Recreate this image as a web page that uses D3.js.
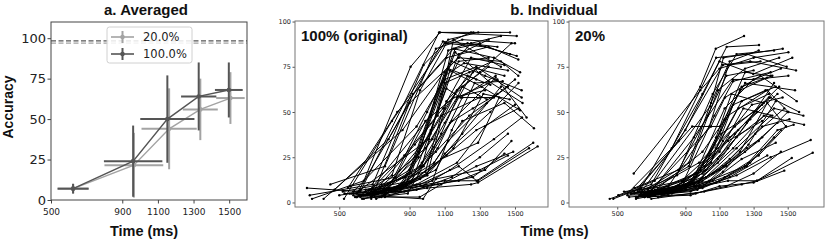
<!DOCTYPE html>
<html>
<head>
<meta charset="utf-8">
<script src="https://cdn.jsdelivr.net/npm/d3@7"></script>
<style>
  body { margin: 0; background: #fff; }
  svg { display: block; }
  .tick text { font-family: "DejaVu Sans", sans-serif; }
  .bold { font-family: "Liberation Sans", Arial, sans-serif; font-weight: bold; fill: #111; }
</style>
</head>
<body>
<svg id="chart" width="830" height="241"></svg>
<script>
// ---- panel a: averaged curves ----
const avgT20 = [624, 965, 1163, 1338, 1507];
const avgA20 = [7, 21.5, 44, 56, 63];
const xErr20 = [87, 165, 155, 98, 80];
const yErr20 = [3, 20, 25, 19, 16];

const avgT100 = [624, 961, 1153, 1329, 1498];
const avgA100 = [7, 24, 50, 64, 68];
const xErr100 = [87, 164, 152, 99, 78];
const yErr100 = [3, 22, 27, 21, 17];

const ceiling100 = 98.3;
const ceiling20 = 96.9;

const xTicks = [500, 900, 1100, 1300, 1500];
const yTicks = [0, 25, 50, 75, 100];

// ---- panel b: individual subjects (5 RT bins each) ----
const origT = [
  [316, 620, 1068, 1263, 1472], [332, 690, 980, 1120, 1291], [345, 640, 906, 1073, 1510],
  [449, 760, 1050, 1200, 1500], [473, 780, 1090, 1300, 1472], [527, 800, 1100, 1330, 1510],
  [549, 830, 1110, 1350, 1519], [682, 920, 1150, 1380, 1529], [600, 900, 1180, 1420, 1519],
  [411, 860, 1140, 1330, 1538], [580, 940, 1100, 1280, 1538], [650, 1020, 1160, 1350, 1543],
  [620, 1010, 1130, 1310, 1529], [690, 990, 1170, 1400, 1566], [730, 1040, 1200, 1440, 1608],
  [640, 960, 1180, 1282, 1604], [700, 1000, 1250, 1290, 1629], [560, 850, 1100, 1290, 1580],
  [620, 958, 1080, 1280, 1490], [660, 977, 1050, 1300, 1460], [700, 900, 1100, 1250, 1420],
  [720, 950, 1120, 1230, 1400], [680, 970, 1080, 1180, 1350], [740, 1000, 1110, 1280, 1440],
  [760, 1030, 1140, 1270, 1430], [620, 880, 1060, 1200, 1380], [590, 830, 1030, 1170, 1350],
  [650, 870, 1100, 1230, 1360], [710, 960, 1150, 1320, 1470], [670, 940, 1170, 1330, 1500],
  [750, 1050, 1100, 1360, 1520], [600, 820, 1000, 1200, 1420], [530, 760, 980, 1140, 1390],
  [690, 900, 1080, 1290, 1410], [640, 860, 1050, 1240, 1460], [720, 1000, 1120, 1340, 1500],
  [580, 920, 1110, 1280, 1520], [760, 990, 1130, 1380, 1540], [610, 940, 1140, 1300, 1460],
  [680, 980, 1180, 1330, 1480], [570, 870, 1060, 1260, 1440], [650, 850, 1020, 1180, 1350],
  [700, 880, 1040, 1160, 1300], [620, 800, 960, 1110, 1250], [740, 950, 1100, 1240, 1370],
  [700, 930, 1060, 1150, 1420], [660, 910, 1100, 1210, 1460], [560, 820, 990, 1150, 1330],
  [500, 780, 1000, 1120, 1280], [630, 890, 1080, 1200, 1340], [710, 960, 1130, 1260, 1400],
  [600, 910, 1110, 1190, 1390], [690, 870, 1090, 1250, 1440], [740, 1020, 1160, 1300, 1480],
  [520, 740, 990, 1080, 1300], [580, 840, 970, 1100, 1260]
];
const origA = [
  [8, 6, 94, 94, 94], [4, 10, 76, 90, 94], [2, 12, 75, 94, 92],
  [10, 20, 85, 90, 88], [7, 35, 89, 87, 82], [2, 45, 88, 86, 81],
  [8, 50, 80, 86, 79], [2, 60, 85, 80, 72], [5, 55, 80, 78, 70],
  [2, 40, 78, 70, 62], [6, 42, 68, 75, 58], [4, 48, 83, 67, 55],
  [7, 35, 73, 64, 51], [5, 30, 58, 68, 47], [3, 22, 45, 55, 41],
  [4, 10, 20, 12, 33], [3, 8, 10, 11, 31], [5, 7, 12, 12, 30],
  [3, 3, 10, 20, 28], [4, 2, 13, 18, 26], [6, 18, 72, 88, 92],
  [5, 25, 84, 88, 86], [3, 20, 60, 78, 80], [6, 15, 56, 74, 70],
  [5, 12, 40, 66, 67], [4, 9, 30, 58, 58], [3, 8, 35, 62, 75],
  [6, 14, 52, 70, 65], [2, 13, 30, 60, 57], [7, 10, 22, 42, 54],
  [4, 18, 27, 50, 66], [3, 6, 15, 38, 64], [5, 4, 20, 45, 69],
  [4, 11, 24, 33, 58], [2, 9, 28, 48, 64], [5, 16, 34, 55, 68],
  [6, 12, 26, 40, 52], [3, 10, 18, 35, 47], [4, 7, 14, 25, 38],
  [6, 9, 12, 18, 34], [5, 6, 10, 14, 27], [7, 8, 40, 82, 90],
  [5, 10, 55, 85, 88], [4, 15, 62, 88, 94], [3, 28, 66, 72, 78],
  [6, 32, 48, 90, 75], [5, 16, 70, 77, 73], [9, 14, 45, 58, 62],
  [4, 8, 50, 74, 68], [2, 5, 38, 64, 57], [6, 20, 44, 52, 60],
  [3, 11, 63, 58, 70], [8, 26, 52, 80, 76], [5, 38, 60, 72, 88],
  [6, 10, 17, 48, 58], [4, 6, 22, 44, 72]
];

const subT = [
  [456, 640, 987, 1078, 1244], [477, 700, 1000, 1142, 1332], [506, 720, 1044, 1123, 1471],
  [597, 987, 1100, 1300, 1504], [644, 900, 1100, 1298, 1527], [560, 820, 1080, 1260, 1494],
  [620, 860, 1120, 1280, 1549], [680, 950, 1178, 1300, 1504], [600, 940, 1103, 1250, 1543],
  [660, 1050, 1132, 1340, 1553], [700, 1000, 1150, 1380, 1504], [640, 980, 1190, 1400, 1567],
  [720, 1020, 1200, 1420, 1592], [690, 1000, 1180, 1360, 1596], [730, 1040, 1220, 1380, 1490],
  [610, 960, 1250, 1440, 1535], [660, 980, 1200, 1400, 1635], [700, 1010, 1230, 1320, 1647],
  [580, 900, 1150, 1320, 1524], [620, 930, 1100, 1300, 1480], [540, 800, 1040, 1160, 1330],
  [600, 850, 1060, 1200, 1420], [680, 920, 1090, 1250, 1450], [640, 890, 1070, 1180, 1400],
  [700, 960, 1130, 1300, 1460], [660, 900, 1080, 1230, 1430], [590, 840, 1060, 1210, 1390],
  [720, 980, 1120, 1290, 1470], [650, 900, 1090, 1260, 1420], [610, 880, 1100, 1310, 1480],
  [690, 950, 1140, 1330, 1500], [730, 1000, 1160, 1350, 1510], [570, 820, 1020, 1200, 1400],
  [640, 870, 1060, 1250, 1440], [700, 930, 1100, 1280, 1460], [620, 900, 1080, 1260, 1420],
  [680, 960, 1140, 1300, 1460], [560, 800, 1000, 1160, 1380], [750, 1000, 1130, 1250, 1400],
  [650, 920, 1050, 1150, 1340], [710, 960, 1110, 1220, 1380], [600, 860, 1030, 1140, 1300],
  [670, 940, 1080, 1170, 1360], [740, 990, 1150, 1280, 1440], [630, 880, 1040, 1190, 1350],
  [580, 830, 1010, 1160, 1320], [690, 920, 1100, 1240, 1410], [720, 970, 1120, 1270, 1430],
  [660, 910, 1070, 1230, 1410], [610, 850, 1050, 1180, 1370], [700, 940, 1110, 1300, 1450],
  [650, 900, 1090, 1210, 1390], [580, 820, 990, 1150, 1350], [740, 980, 1130, 1330, 1490],
  [690, 950, 1120, 1260, 1350], [630, 870, 1060, 1230, 1430]
];
const subA = [
  [2, 8, 64, 85, 92], [2, 10, 60, 86, 87], [4, 12, 53, 80, 85],
  [16, 62, 74, 80, 83], [6, 40, 78, 71, 80], [5, 30, 80, 82, 75],
  [7, 34, 76, 78, 73], [4, 36, 68, 68, 70], [6, 42, 42, 66, 62],
  [3, 42, 58, 70, 56], [5, 28, 48, 62, 50], [4, 22, 42, 58, 50],
  [6, 18, 36, 52, 48], [3, 14, 30, 48, 43], [5, 12, 28, 55, 42],
  [3, 9, 20, 40, 43], [4, 8, 15, 25, 34.5], [2, 6, 10, 12, 27.5],
  [5, 7, 12, 12, 24.6], [3, 4, 9, 11, 17.6], [6, 9, 42, 78, 84],
  [5, 15, 60, 82, 84], [7, 20, 62, 74, 80], [4, 12, 48, 67, 72],
  [6, 16, 52, 68, 74], [3, 8, 30, 56, 64], [5, 6, 26, 52, 60],
  [7, 11, 34, 54, 58], [4, 10, 22, 44, 66], [2, 7, 18, 38, 52],
  [5, 9, 20, 34, 50], [6, 12, 24, 42, 46], [3, 5, 14, 30, 48],
  [5, 7, 16, 28, 44], [4, 6, 12, 22, 40], [6, 8, 11, 20, 36],
  [3, 5, 9, 16, 28], [4, 5, 8, 14, 26], [5, 16, 46, 72, 70],
  [6, 22, 55, 76, 78], [4, 14, 40, 62, 69], [8, 18, 48, 70, 73],
  [5, 10, 36, 60, 55], [3, 13, 30, 46, 60], [7, 12, 26, 38, 54],
  [5, 8, 20, 36, 50], [6, 10, 28, 52, 48], [4, 7, 17, 32, 56],
  [5, 9, 32, 64, 70], [3, 6, 22, 54, 62], [6, 11, 38, 50, 64],
  [4, 8, 24, 40, 58], [5, 7, 18, 34, 45], [3, 9, 14, 26, 42],
  [6, 10, 20, 30, 36], [4, 7, 12, 24, 33]
];

const svg = d3.select('#chart');
const light = '#a3a3a3', dark = '#555555';
const fmt = d3.format('d');

// ---------- panel a ----------
const xA = d3.scaleLinear().domain([500, 1600]).range([51, 247]);
const yA = d3.scaleLinear().domain([0, 110]).range([200, 22]);

const gA = svg.append('g');

gA.append('g').attr('transform', 'translate(0,200)')
  .call(d3.axisBottom(xA).tickValues(xTicks).tickFormat(fmt).tickSize(3.5).tickPadding(5).tickSizeOuter(0))
  .call(g => g.select('.domain').remove())
  .call(g => g.selectAll('line').attr('stroke', '#444'))
  .call(g => g.selectAll('text').attr('font-size', 9).attr('fill', '#222'));

gA.append('g').attr('transform', 'translate(51,0)')
  .call(d3.axisLeft(yA).tickValues(yTicks).tickFormat(fmt).tickSize(3.5).tickPadding(1.5).tickSizeOuter(0))
  .call(g => g.select('.domain').remove())
  .call(g => g.selectAll('line').attr('stroke', '#444'))
  .call(g => g.selectAll('text').attr('font-size', 13).attr('fill', '#222'));

// ceiling dashed lines
[[ceiling100, dark], [ceiling20, light]].forEach(([v, c]) => {
  gA.append('line')
    .attr('x1', xA.range()[0]).attr('x2', xA.range()[1])
    .attr('y1', yA(v)).attr('y2', yA(v))
    .attr('stroke', c).attr('stroke-width', 1.3).attr('stroke-dasharray', '5,2.5');
});

function drawSeries(T, A, xe, ye, color) {
  const pts = T.map((t, i) => ({t: t, a: A[i], xe: xe[i], ye: ye[i]}));
  const g = gA.append('g');
  g.selectAll('.hbar').data(pts).enter().append('line')
    .attr('x1', d => xA(d.t - d.xe)).attr('x2', d => xA(d.t + d.xe))
    .attr('y1', d => yA(d.a)).attr('y2', d => yA(d.a))
    .attr('stroke', color).attr('stroke-width', 2);
  g.selectAll('.vbar').data(pts).enter().append('line')
    .attr('x1', d => xA(d.t)).attr('x2', d => xA(d.t))
    .attr('y1', d => yA(d.a - d.ye)).attr('y2', d => yA(d.a + d.ye))
    .attr('stroke', color).attr('stroke-width', 2);
  g.append('path').datum(pts)
    .attr('fill', 'none').attr('stroke', color).attr('stroke-width', 1.4)
    .attr('d', d3.line().x(d => xA(d.t)).y(d => yA(d.a)));
  g.selectAll('circle').data(pts).enter().append('circle')
    .attr('cx', d => xA(d.t)).attr('cy', d => yA(d.a)).attr('r', 2.3)
    .attr('fill', color);
}
drawSeries(avgT20, avgA20, xErr20, yErr20, light);
drawSeries(avgT100, avgA100, xErr100, yErr100, dark);

gA.append('rect').attr('x', 51).attr('y', 22).attr('width', 196).attr('height', 178)
  .attr('fill', 'none').attr('stroke', '#444').attr('stroke-width', 1);

// legend
const leg = gA.append('g');
leg.append('rect').attr('x', 107).attr('y', 27).attr('width', 85).attr('height', 36).attr('rx', 2.5)
  .attr('fill', '#fff').attr('fill-opacity', 0.85).attr('stroke', '#d0d0d0');
[['20.0%', light, 37], ['100.0%', dark, 54]].forEach(([lab, c, y]) => {
  leg.append('line').attr('x1', 111).attr('x2', 134).attr('y1', y).attr('y2', y)
    .attr('stroke', c).attr('stroke-width', 1.6);
  leg.append('line').attr('x1', 122.5).attr('x2', 122.5).attr('y1', y - 6).attr('y2', y + 6)
    .attr('stroke', c).attr('stroke-width', 2);
  leg.append('circle').attr('cx', 122.5).attr('cy', y).attr('r', 2.3).attr('fill', c);
  leg.append('text').attr('x', 143).attr('y', y + 4)
    .attr('font-family', '"DejaVu Sans", sans-serif').attr('font-size', 11.5).attr('fill', '#222')
    .text(lab);
});

svg.append('text').attr('class', 'bold').attr('x', 146).attr('y', 15)
  .attr('text-anchor', 'middle').attr('font-size', 15).text('a. Averaged');
svg.append('text').attr('class', 'bold').attr('x', 144).attr('y', 236)
  .attr('text-anchor', 'middle').attr('font-size', 14.5).text('Time (ms)');
svg.append('text').attr('class', 'bold')
  .attr('transform', 'translate(13,107) rotate(-90)')
  .attr('text-anchor', 'middle').attr('font-size', 14).text('Accuracy');

// ---------- panel b ----------
const yB = d3.scaleLinear().domain([-2.5, 100.3]).range([207, 21]);

function drawIndividual(x0, x1, domain, T, A, label) {
  const x = d3.scaleLinear().domain(domain).range([x0, x1]);
  const g = svg.append('g');

  g.append('g').attr('transform', 'translate(0,207)')
    .call(d3.axisBottom(x).tickValues(xTicks).tickFormat(fmt).tickSize(2.5).tickPadding(2).tickSizeOuter(0))
    .call(a => a.select('.domain').remove())
    .call(a => a.selectAll('line').attr('stroke', '#555'))
    .call(a => a.selectAll('text').attr('font-size', 6.5).attr('fill', '#222'));
  g.append('g').attr('transform', 'translate(' + x0 + ',0)')
    .call(d3.axisLeft(yB).tickValues(yTicks).tickFormat(fmt).tickSize(2.5).tickPadding(1.5).tickSizeOuter(0))
    .call(a => a.select('.domain').remove())
    .call(a => a.selectAll('line').attr('stroke', '#555'))
    .call(a => a.selectAll('text').attr('font-size', 6.5).attr('fill', '#222'));

  const subjects = T.map((row, i) => row.map((t, j) => ({t: t, a: A[i][j]})));
  const line = d3.line().x(d => x(d.t)).y(d => yB(d.a));
  g.selectAll('.subj').data(subjects).enter().append('path')
    .attr('fill', 'none').attr('stroke', '#000').attr('stroke-width', 1)
    .attr('d', line);
  g.selectAll('.dot').data(subjects.flat()).enter().append('circle')
    .attr('cx', d => x(d.t)).attr('cy', d => yB(d.a)).attr('r', 1.2).attr('fill', '#000');

  g.append('rect').attr('x', x0).attr('y', 21).attr('width', x1 - x0).attr('height', 186)
    .attr('fill', 'none').attr('stroke', '#777').attr('stroke-width', 1);
  g.append('text').attr('class', 'bold').attr('x', x0 + 6).attr('y', 41)
    .attr('font-size', 15).text(label);
}
drawIndividual(295, 548, [248, 1688], origT, origA, '100% (original)');
drawIndividual(569, 824, [217, 1713], subT, subA, '20%');

svg.append('text').attr('class', 'bold').attr('x', 554).attr('y', 15)
  .attr('text-anchor', 'middle').attr('font-size', 15).text('b. Individual');
svg.append('text').attr('class', 'bold').attr('x', 554.5).attr('y', 236)
  .attr('text-anchor', 'middle').attr('font-size', 14.5).text('Time (ms)');
</script>
</body>
</html>
